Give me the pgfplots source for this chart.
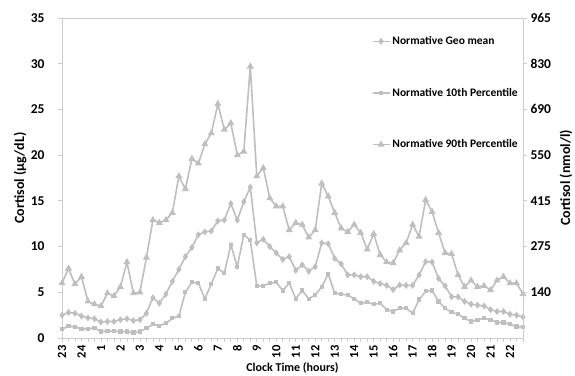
\documentclass[border=0pt]{standalone}
\usepackage{fontspec}
\setmainfont{Carlito}
\usepackage{pgfplots}
\usepackage{pgfplotstable}
\pgfplotsset{compat=1.18}
\usetikzlibrary{calc}
\definecolor{lg}{RGB}{191,191,191}
\definecolor{ax}{RGB}{205,205,205}

\pgfplotstableread{
i p90 geo p10
0 6.0 2.5 0.95
1 7.6 2.8 1.3
2 5.9 2.7 1.2
3 6.7 2.4 1.0
4 4.0 2.2 1.0
5 3.7 2.1 1.1
6 3.5 1.75 0.7
7 4.9 1.8 0.75
8 4.6 1.8 0.75
9 5.6 2.0 0.7
10 8.3 2.1 0.7
11 4.9 1.9 0.6
12 5.0 2.0 0.7
13 8.8 2.7 1.05
14 12.9 4.4 1.5
15 12.6 3.8 1.35
16 12.9 4.8 1.6
17 13.7 6.2 2.15
18 17.7 7.5 2.4
19 16.3 8.9 5.0
20 19.6 9.9 6.1
21 19.1 11.3 6.0
22 21.2 11.6 4.3
23 22.4 11.7 5.9
24 25.6 12.8 7.6
25 22.8 12.9 7.1
26 23.5 14.7 10.2
27 20.0 12.9 7.8
28 20.4 14.9 11.3
29 29.7 16.5 10.7
30 17.7 10.4 5.7
31 18.6 10.8 5.7
32 15.3 10.0 6.0
33 14.4 9.3 6.1
34 14.4 8.6 5.2
35 11.8 8.9 6.0
36 12.6 7.4 4.3
37 12.4 8.0 5.2
38 11.0 7.3 4.3
39 11.8 7.8 4.7
40 16.9 10.4 5.6
41 15.5 10.3 7.0
42 13.7 8.7 4.9
43 12.0 8.1 4.8
44 11.6 6.9 4.7
45 12.4 6.9 4.3
46 11.5 6.7 3.8
47 9.7 6.7 3.9
48 11.4 6.2 3.7
49 9.1 5.95 3.8
50 8.3 5.75 3.1
51 8.2 5.3 2.9
52 9.6 5.8 3.25
53 10.4 5.75 3.25
54 12.4 5.75 2.7
55 11.1 6.9 4.2
56 15.1 8.35 5.1
57 13.8 8.3 5.2
58 11.5 6.5 4.0
59 9.3 5.7 3.25
60 9.2 4.5 2.8
61 6.9 4.5 2.6
62 5.6 4.0 2.15
63 6.3 3.7 1.8
64 5.6 3.6 2.0
65 5.7 3.5 2.15
66 5.25 3.1 2.0
67 6.3 2.9 1.7
68 6.7 2.9 1.7
69 6.0 2.6 1.5
70 6.0 2.5 1.25
71 4.8 2.3 1.2
}\data

\begin{document}
\begin{tikzpicture}
\pgfplotsset{
  every axis/.append style={
    width=461pt, height=320pt, scale only axis,
    xmin=0, xmax=71, ymin=0, ymax=35,
    axis line style={ax, line width=0.8pt},
    tick style={ax, line width=0.8pt},
    tick align=outside,
    major tick length=4pt, minor tick length=4pt,
    /pgf/number format/assume math mode=true,
  },
}
\begin{axis}[name=main,
  ytick={0,5,...,35},
  ytick pos=left,
  xtick pos=bottom,
  xtick={0,3,...,69},
  xticklabels={23,24,1,2,3,4,5,6,7,8,9,10,11,12,13,14,15,16,17,18,19,20,21,22},
  minor xtick={0,1,...,71},
  xticklabel style={rotate=90, anchor=east, font=\fontsize{12.5}{12.5}\selectfont\bfseries},
  yticklabel style={font=\fontsize{13.5}{13.5}\selectfont\bfseries, xshift=-10pt},
  xlabel={Clock Time (hours)},
  ylabel={Cortisol (µg/dL)},
  every axis x label/.style={at={(axis description cs:0.5,-0.094)}, anchor=center, font=\fontsize{12}{12}\selectfont\bfseries},
  every axis y label/.style={at={(axis description cs:-0.091,0.5)}, rotate=90, anchor=center, font=\fontsize{14}{14}\selectfont\bfseries},
  legend style={draw=none, fill=none, at={(0.665,0.955)}, anchor=north west,
    font=\fontsize{11.5}{12}\selectfont\bfseries, row sep=38pt},
  legend cell align=left,
]
\addplot[lg, line width=1.6pt, mark=diamond*, mark size=2.2pt] table[x=i, y=geo] {\data};
\addlegendentry{Normative Geo mean}
\addplot[lg, line width=1.6pt, mark=square*, mark size=1.3pt] table[x=i, y=p10] {\data};
\addlegendentry{Normative 10th Percentile}
\addplot[lg, line width=1.6pt, mark=triangle*, mark size=2.5pt] table[x=i, y=p90] {\data};
\addlegendentry{Normative 90th Percentile}
\end{axis}
\begin{axis}[
  axis x line=none,
  axis y line*=right,
  ytick={5,10,...,35},
  yticklabels={140,275,415,550,690,830,965},
  yticklabel style={font=\fontsize{13.5}{13.5}\selectfont\bfseries},
  ylabel={Cortisol (nmol/l)},
  every axis y label/.style={at={(axis description cs:1.093,0.5)}, rotate=90, anchor=center, font=\fontsize{14}{14}\selectfont\bfseries},
]
\end{axis}
\pgfresetboundingbox
\useasboundingbox ($(main.south west)+(-62pt,-38pt)$) rectangle ($(main.north east)+(52pt,18pt)$);
\end{tikzpicture}
\end{document}
